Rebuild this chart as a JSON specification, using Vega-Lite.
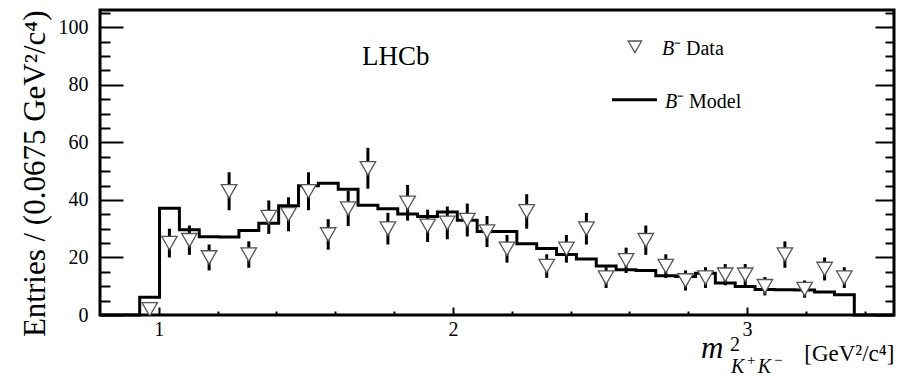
{
  "$schema": "https://vega.github.io/schema/vega-lite/v6.json",
  "width": 794,
  "height": 305,
  "autosize": {"type": "none"},
  "padding": {"left": 100, "top": 10, "right": 15, "bottom": 63},
  "background": "white",
  "config": {
    "view": {"stroke": "black", "strokeWidth": 3},
    "axis": {
      "labelFont": "Liberation Serif",
      "labelFontSize": 20,
      "labelColor": "black",
      "titleFont": "Liberation Serif",
      "titleFontWeight": "normal",
      "titleColor": "black",
      "domain": false,
      "grid": false,
      "tickColor": "black"
    }
  },
  "datasets": {
    "pts": [
      {"x": 0.969, "n": 2, "lo": 0.6, "hi": 3.4},
      {"x": 1.036, "n": 25, "lo": 20, "hi": 30},
      {"x": 1.104, "n": 26, "lo": 20.9, "hi": 31.1},
      {"x": 1.171, "n": 20, "lo": 15.5, "hi": 24.5},
      {"x": 1.239, "n": 43, "lo": 36.4, "hi": 49.6},
      {"x": 1.306, "n": 21, "lo": 16.4, "hi": 25.6},
      {"x": 1.374, "n": 34, "lo": 28.2, "hi": 39.8},
      {"x": 1.441, "n": 35, "lo": 29.1, "hi": 40.9},
      {"x": 1.509, "n": 43, "lo": 36.4, "hi": 49.6},
      {"x": 1.576, "n": 28, "lo": 22.7, "hi": 33.3},
      {"x": 1.644, "n": 37, "lo": 30.9, "hi": 43.1},
      {"x": 1.711, "n": 51, "lo": 43.9, "hi": 58.1},
      {"x": 1.779, "n": 30, "lo": 24.5, "hi": 35.5},
      {"x": 1.846, "n": 39, "lo": 32.8, "hi": 45.2},
      {"x": 1.914, "n": 31, "lo": 25.4, "hi": 36.6},
      {"x": 1.981, "n": 32, "lo": 26.3, "hi": 37.7},
      {"x": 2.049, "n": 33, "lo": 27.3, "hi": 38.7},
      {"x": 2.116, "n": 29, "lo": 23.6, "hi": 34.4},
      {"x": 2.184, "n": 23, "lo": 18.2, "hi": 27.8},
      {"x": 2.251, "n": 36, "lo": 30, "hi": 42},
      {"x": 2.319, "n": 17, "lo": 12.9, "hi": 21.1},
      {"x": 2.386, "n": 23, "lo": 18.2, "hi": 27.8},
      {"x": 2.454, "n": 30, "lo": 24.5, "hi": 35.5},
      {"x": 2.521, "n": 13, "lo": 9.4, "hi": 16.6},
      {"x": 2.589, "n": 19, "lo": 14.6, "hi": 23.4},
      {"x": 2.656, "n": 26, "lo": 20.9, "hi": 31.1},
      {"x": 2.724, "n": 17, "lo": 12.9, "hi": 21.1},
      {"x": 2.791, "n": 12, "lo": 8.5, "hi": 15.5},
      {"x": 2.859, "n": 13, "lo": 9.4, "hi": 16.6},
      {"x": 2.926, "n": 14, "lo": 10.3, "hi": 17.7},
      {"x": 2.994, "n": 14, "lo": 10.3, "hi": 17.7},
      {"x": 3.061, "n": 10, "lo": 6.8, "hi": 13.2},
      {"x": 3.129, "n": 21, "lo": 16.4, "hi": 25.6},
      {"x": 3.196, "n": 9, "lo": 6, "hi": 12},
      {"x": 3.264, "n": 16, "lo": 12, "hi": 20},
      {"x": 3.331, "n": 13, "lo": 9.4, "hi": 16.6}
    ],
    "model": [
      {"x": 0.8, "y": 0},
      {"x": 0.935, "y": 6.2},
      {"x": 1.0025, "y": 37.1},
      {"x": 1.07, "y": 29.6},
      {"x": 1.1375, "y": 27.2},
      {"x": 1.205, "y": 27.1},
      {"x": 1.2725, "y": 29.4},
      {"x": 1.34, "y": 31.9},
      {"x": 1.4075, "y": 38.0},
      {"x": 1.475, "y": 44.9},
      {"x": 1.5425, "y": 45.8},
      {"x": 1.61, "y": 43.7},
      {"x": 1.6775, "y": 38.1},
      {"x": 1.745, "y": 36.9},
      {"x": 1.8125, "y": 35.1},
      {"x": 1.88, "y": 34.2},
      {"x": 1.9475, "y": 35.8},
      {"x": 2.015, "y": 32.9},
      {"x": 2.0825, "y": 29.0},
      {"x": 2.15, "y": 29.0},
      {"x": 2.2175, "y": 24.8},
      {"x": 2.285, "y": 23.1},
      {"x": 2.3525, "y": 21.0},
      {"x": 2.42, "y": 19.5},
      {"x": 2.4875, "y": 17.0},
      {"x": 2.555, "y": 15.7},
      {"x": 2.6225, "y": 15.5},
      {"x": 2.69, "y": 13.6},
      {"x": 2.7575, "y": 13.4},
      {"x": 2.825, "y": 14.5},
      {"x": 2.8925, "y": 11.1},
      {"x": 2.96, "y": 9.9},
      {"x": 3.0275, "y": 8.9},
      {"x": 3.095, "y": 8.8},
      {"x": 3.1625, "y": 8.7},
      {"x": 3.23, "y": 8.0},
      {"x": 3.2975, "y": 7.0},
      {"x": 3.365, "y": 0},
      {"x": 3.5, "y": 0}
    ]
  },
  "resolve": {"axis": {"x": "independent", "y": "independent"}},
  "layer": [
    {
      "data": {"name": "model"},
      "mark": {"type": "line", "interpolate": "step-after", "color": "black", "strokeWidth": 3},
      "encoding": {
        "x": {
          "field": "x", "type": "quantitative",
          "scale": {"domain": [0.8, 3.5], "nice": false, "zero": false},
          "axis": {
            "orient": "bottom", "values": [1, 2, 3], "tickSize": -8, "tickWidth": 2,
            "labelPadding": 12, "format": "d",
            "title": "[GeV²/c⁴]", "titleFontSize": 23, "titleAnchor": "end",
            "titleAlign": "right", "titleBaseline": "alphabetic", "titleY": 45
          }
        },
        "y": {
          "field": "y", "type": "quantitative",
          "scale": {"domain": [0, 106], "nice": false, "zero": true},
          "axis": {
            "orient": "left", "values": [0, 20, 40, 60, 80, 100], "tickSize": -23, "tickWidth": 2,
            "labelPadding": 35,
            "title": "Entries / (0.0675 GeV²/c⁴)", "titleFontSize": 31, "titleAnchor": "end",
            "titlePadding": 7
          }
        }
      }
    },
    {
      "data": {"name": "pts"},
      "mark": {"type": "rule", "color": "black", "strokeWidth": 3},
      "encoding": {
        "x": {
          "field": "x", "type": "quantitative",
          "axis": {
            "orient": "bottom", "values": [1.2, 1.4, 1.6, 1.8, 2.2, 2.4, 2.6, 2.8, 3.2, 3.4],
            "tickSize": -4, "tickWidth": 2, "labels": false, "title": null
          }
        },
        "y": {
          "field": "lo", "type": "quantitative",
          "axis": {
            "orient": "left", "values": [5, 10, 15, 25, 30, 35, 45, 50, 55, 65, 70, 75, 85, 90, 95, 105],
            "tickSize": -10, "tickWidth": 2, "labels": false, "title": null
          }
        },
        "y2": {"field": "hi"}
      }
    },
    {
      "data": {"name": "pts"},
      "mark": {"type": "point", "shape": "triangle-down", "fill": "white", "stroke": "#555555", "strokeWidth": 1.3, "opacity": 1, "size": 240},
      "encoding": {
        "x": {"field": "x", "type": "quantitative", "axis": null},
        "y": {
          "field": "n", "type": "quantitative",
          "axis": {
            "orient": "right", "values": [0, 20, 40, 60, 80, 100], "tickSize": -19, "tickWidth": 2,
            "labels": false, "title": null
          }
        }
      }
    },
    {
      "data": {"values": [{}]},
      "mark": {"type": "text", "text": "LHCb", "font": "Liberation Serif", "fontSize": 27, "align": "center", "baseline": "middle", "color": "black"},
      "encoding": {
        "x": {"datum": 1.806, "type": "quantitative", "axis": null},
        "y": {
          "datum": 89.7, "type": "quantitative",
          "axis": {
            "orient": "right", "values": [5, 10, 15, 25, 30, 35, 45, 50, 55, 65, 70, 75, 85, 90, 95, 105],
            "tickSize": -9, "tickWidth": 2, "labels": false, "title": null
          }
        }
      }
    },
    {
      "data": {"values": [{}]},
      "mark": {"type": "point", "shape": "triangle-down", "fill": "white", "stroke": "#555555", "strokeWidth": 1.3, "opacity": 1, "size": 180},
      "encoding": {
        "x": {"datum": 2.619, "type": "quantitative", "axis": null},
        "y": {"datum": 93.2, "type": "quantitative", "axis": null}
      }
    },
    {
      "data": {"values": [{}]},
      "mark": {"type": "rule", "color": "black", "strokeWidth": 3},
      "encoding": {
        "x": {"datum": 2.541, "type": "quantitative", "axis": null},
        "x2": {"datum": 2.694},
        "y": {"datum": 74.8, "type": "quantitative", "axis": null}
      }
    },
    {
      "data": {"values": [{}]},
      "mark": {"type": "text", "text": "B", "font": "Liberation Serif", "fontStyle": "italic", "fontSize": 20, "align": "left", "baseline": "middle", "color": "black"},
      "encoding": {
        "x": {"datum": 2.711, "type": "quantitative", "axis": null},
        "y": {"datum": 92.5, "type": "quantitative", "axis": null}
      }
    },
    {
      "data": {"values": [{}]},
      "mark": {"type": "text", "text": "⁻ Data", "font": "Liberation Serif", "fontSize": 20, "align": "left", "baseline": "middle", "color": "black"},
      "encoding": {
        "x": {"datum": 2.752, "type": "quantitative", "axis": null},
        "y": {"datum": 92.5, "type": "quantitative", "axis": null}
      }
    },
    {
      "data": {"values": [{}]},
      "mark": {"type": "text", "text": "B", "font": "Liberation Serif", "fontStyle": "italic", "fontSize": 20, "align": "left", "baseline": "middle", "color": "black"},
      "encoding": {
        "x": {"datum": 2.721, "type": "quantitative", "axis": null},
        "y": {"datum": 74.1, "type": "quantitative", "axis": null}
      }
    },
    {
      "data": {"values": [{}]},
      "mark": {"type": "text", "text": "⁻ Model", "font": "Liberation Serif", "fontSize": 20, "align": "left", "baseline": "middle", "color": "black"},
      "encoding": {
        "x": {"datum": 2.762, "type": "quantitative", "axis": null},
        "y": {"datum": 74.1, "type": "quantitative", "axis": null}
      }
    },
    {
      "data": {"values": [{}]},
      "mark": {"type": "text", "text": "m", "font": "Liberation Serif", "fontStyle": "italic", "fontSize": 31, "align": "left", "baseline": "alphabetic", "color": "black"},
      "encoding": {
        "x": {"datum": 2.844, "type": "quantitative", "axis": null},
        "y": {"datum": -14.96, "type": "quantitative", "axis": null}
      }
    },
    {
      "data": {"values": [{}]},
      "mark": {"type": "text", "text": "2", "font": "Liberation Serif", "fontSize": 20, "align": "left", "baseline": "alphabetic", "color": "black"},
      "encoding": {
        "x": {"datum": 2.942, "type": "quantitative", "axis": null},
        "y": {"datum": -12.5, "type": "quantitative", "axis": null}
      }
    },
    {
      "data": {"values": [{}]},
      "mark": {"type": "text", "text": "K", "font": "Liberation Serif", "fontStyle": "italic", "fontSize": 20, "align": "left", "baseline": "alphabetic", "color": "black"},
      "encoding": {
        "x": {"datum": 2.946, "type": "quantitative", "axis": null},
        "y": {"datum": -20.3, "type": "quantitative", "axis": null}
      }
    },
    {
      "data": {"values": [{}]},
      "mark": {"type": "text", "text": "+", "font": "Liberation Serif", "fontSize": 15, "align": "left", "baseline": "alphabetic", "color": "black"},
      "encoding": {
        "x": {"datum": 3.0, "type": "quantitative", "axis": null},
        "y": {"datum": -17.3, "type": "quantitative", "axis": null}
      }
    },
    {
      "data": {"values": [{}]},
      "mark": {"type": "text", "text": "K", "font": "Liberation Serif", "fontStyle": "italic", "fontSize": 20, "align": "left", "baseline": "alphabetic", "color": "black"},
      "encoding": {
        "x": {"datum": 3.037, "type": "quantitative", "axis": null},
        "y": {"datum": -20.3, "type": "quantitative", "axis": null}
      }
    },
    {
      "data": {"values": [{}]},
      "mark": {"type": "text", "text": "−", "font": "Liberation Serif", "fontSize": 15, "align": "left", "baseline": "alphabetic", "color": "black"},
      "encoding": {
        "x": {"datum": 3.092, "type": "quantitative", "axis": null},
        "y": {"datum": -17.3, "type": "quantitative", "axis": null}
      }
    }
  ]
}
